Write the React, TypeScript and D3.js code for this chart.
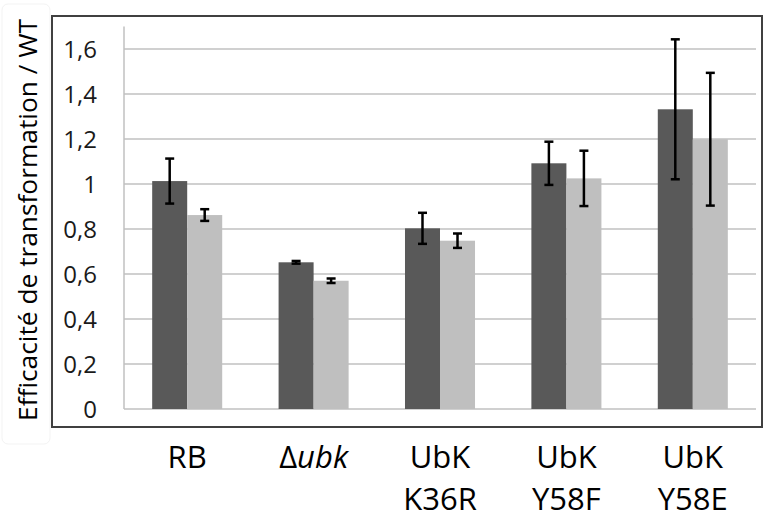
import React from "react";
import * as d3 from "d3";

const categories = ["RB", "Δubk", "UbK K36R", "UbK Y58F", "UbK Y58E"];
const seriesNames = ["A", "B"];
const seriesA = [1.013, 0.652, 0.803, 1.092, 1.332];
const seriesB = [0.862, 0.57, 0.748, 1.025, 1.199];
const errA = [0.1, 0.006, 0.069, 0.096, 0.311];
const errB = [0.026, 0.01, 0.032, 0.123, 0.295];
const yTicks = [0, 0.2, 0.4, 0.6, 0.8, 1, 1.2, 1.4, 1.6];
const yTitle = "Efficacité de transformation / WT";

const W = 763;
const H = 516;
const FONT = "'Open Sans', 'Noto Sans', sans-serif";
const colors = ["#595959", "#bfbfbf"];

export default function App() {
  const x0 = d3.scaleBand<string>().domain(categories).range([124, 756]);
  const bw = x0.bandwidth();
  const x1 = d3
    .scaleBand<string>()
    .domain(seriesNames)
    .range([0.223 * bw, 0.777 * bw]);
  const y = d3.scaleLinear().domain([0, 1.7]).range([409, 26.5]);
  const fmt = (v: number) => String(v).replace(".", ",");
  const vals = [seriesA, seriesB];
  const errs = [errA, errB];

  return (
    <svg
      width={W}
      height={H}
      style={{ position: "absolute", left: 0, top: 0, background: "#fff" }}
      fontFamily={FONT}
    >
      <rect x={0} y={0} width={W} height={H} fill="#fff" />
      {/* faint title box */}
      <rect x={2} y={4} width={48} height={440} rx={6} fill="none" stroke="#f3f3f3" strokeWidth={1} />
      {/* gridlines */}
      {yTicks.map((t) => (
        <line key={t} x1={124} x2={756} y1={y(t)} y2={y(t)} stroke="#c0c0c0" strokeWidth={1.5} />
      ))}
      <line x1={124} x2={124} y1={y(1.7)} y2={y(0)} stroke="#c0c0c0" strokeWidth={1.5} />
      {/* bars */}
      {categories.map((c, i) => (
        <g key={c} transform={`translate(${x0(c)},0)`}>
          {seriesNames.map((s, j) => (
            <rect
              key={s}
              x={x1(s)}
              width={x1.bandwidth()}
              y={y(vals[j][i])}
              height={y(0) - y(vals[j][i])}
              fill={colors[j]}
            />
          ))}
        </g>
      ))}
      {/* error bars */}
      {categories.map((c, i) => (
        <g key={c + "e"} transform={`translate(${x0(c)},0)`}>
          {seriesNames.map((s, j) => {
            const cx = (x1(s) as number) + x1.bandwidth() / 2;
            const hi = y(vals[j][i] + errs[j][i]);
            const lo = y(vals[j][i] - errs[j][i]);
            return (
              <g key={s} stroke="#000" strokeWidth={2.5}>
                <line x1={cx} x2={cx} y1={hi} y2={lo} />
                <line x1={cx - 4.5} x2={cx + 4.5} y1={hi} y2={hi} />
                <line x1={cx - 4.5} x2={cx + 4.5} y1={lo} y2={lo} />
              </g>
            );
          })}
        </g>
      ))}
      {/* y tick labels */}
      {yTicks.map((t) => (
        <text key={t} x={97} y={y(t)} dy="0.36em" textAnchor="end" fontSize={24} fill="#1a1a1a">
          {fmt(t)}
        </text>
      ))}
      {/* frame */}
      <rect x={52} y={16} width={710} height={411} fill="none" stroke="#404040" strokeWidth={2} />
      {/* x labels */}
      {categories.map((c) => {
        const cx = (x0(c) as number) + bw / 2;
        if (c.startsWith("Δ")) {
          return (
            <text key={c} x={cx} y={468} textAnchor="middle" fontSize={31} fill="#000">
              Δ<tspan fontStyle="italic">{c.slice(1)}</tspan>
            </text>
          );
        }
        const lines = c.split(" ");
        return (
          <text key={c} x={cx} y={468} textAnchor="middle" fontSize={31} fill="#000">
            {lines.map((l, k) => (
              <tspan key={k} x={cx} y={468 + k * 41.5}>
                {l}
              </tspan>
            ))}
          </text>
        );
      })}
      {/* y title */}
      <text
        transform={`translate(37,220) rotate(-90)`}
        textAnchor="middle"
        fontSize={26.3}
        fill="#000"
      >
        {yTitle}
      </text>
    </svg>
  );
}
